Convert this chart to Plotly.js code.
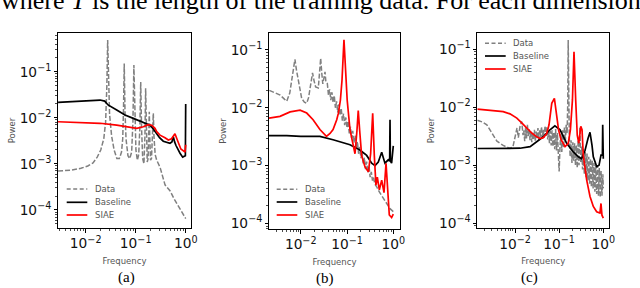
<!DOCTYPE html>
<html>
<head>
<meta charset="utf-8">
<script src="https://cdn.plot.ly/plotly-3.0.1.min.js"></script>
<style>html,body{margin:0;padding:0;background:#fff;}#chart{width:640px;height:288px;}</style>
</head>
<body>
<div id="chart"></div>
<script>
// ---------------- data ----------------
const seriesNames = ["Data", "Baseline", "SIAE"];
const panelLabels = ["(a)", "(b)", "(c)"];
const xTitle = "Frequency";
const yTitle = "Power";
const topText = "where <i>T</i> is the length of the training data. For each dimension";
const unitTickAlias = {"1": "10<sup>0</sup>"};

// panel (a)
const a_data_f = [0.0028,0.005,0.008,0.011,0.014,0.017,0.020,0.023,0.025,0.0265,0.0275,0.0286,0.030,0.033,0.037,0.042,0.047,0.052,0.055,0.057,0.059,0.061,0.064,0.070,0.076,0.083,0.088,0.092,0.096,0.101,0.108,0.115,0.121,0.126,0.131,0.138,0.146,0.153,0.158,0.163,0.170,0.177,0.183,0.187,0.191,0.198,0.207,0.218,0.225,0.232,0.245,0.263,0.306,0.386,0.485,0.61,0.77,1.0];
const a_data_p = [7.0e-4,7.3e-4,8.0e-4,9.0e-4,1.05e-3,1.4e-3,2.0e-3,3.5e-3,8e-3,5e-2,0.49,5e-2,1.2e-2,4e-3,2e-3,1.3e-3,1.3e-3,1.8e-3,3.5e-3,1.5e-2,0.15,1.5e-2,3.5e-3,1.5e-3,1.3e-3,1.8e-3,8e-3,0.14,8e-3,2e-3,1.2e-3,1.6e-3,6e-3,0.06,6e-3,1.3e-3,1.0e-3,4e-3,0.044,4e-3,1.1e-3,1.3e-3,4e-3,0.0135,4e-3,1.2e-3,1.3e-3,4e-3,0.0126,4e-3,1.6e-3,1.2e-3,8.5e-4,3.5e-4,2.6e-4,1.6e-4,1.05e-4,6.5e-5];
const a_base_f = [0.0028,0.0089,0.0194,0.024,0.028,0.0417,0.061,0.0896,0.13,0.193,0.225,0.263,0.30,0.356,0.42,0.485,0.53,0.565,0.60,0.64,0.77,0.87,0.985,1.0];
const a_base_p = [0.0216,0.023,0.0243,0.023,0.019,0.0148,0.0115,0.0097,0.0082,0.0069,0.0057,0.0045,0.0037,0.0031,0.0029,0.0028,0.003,0.0039,0.003,0.0025,0.0017,0.0014,0.0015,0.02];
const a_siae_f = [0.0028,0.0089,0.0194,0.0417,0.077,0.105,0.142,0.178,0.209,0.243,0.263,0.306,0.386,0.45,0.52,0.57,0.61,0.68,0.8,0.97,1.0];
const a_siae_p = [0.0082,0.0078,0.0076,0.0069,0.0062,0.0059,0.0064,0.0071,0.0069,0.0059,0.005,0.0042,0.0037,0.0033,0.0035,0.004,0.0045,0.0033,0.0021,0.0018,0.0026];

// panel (b)
const b_data_f = [0.0021,0.0028,0.0036,0.0045,0.005,0.0058,0.0064,0.0070,0.0075,0.0081,0.0089,0.0098,0.0105,0.012,0.0135,0.0148,0.0159,0.017,0.018,0.0195,0.021,0.024,0.0255,0.027,0.0285,0.030,0.032,0.0335,0.035,0.0376,0.0398,0.0422,0.0447,0.0473,0.0501,0.0531,0.0562,0.0596,0.0631,0.0668,0.0708,0.075,0.0794,0.0841,0.0891,0.0944,0.1,0.106,0.112,0.119,0.126,0.133,0.141,0.150,0.158,0.168,0.178,0.188,0.2,0.211,0.224,0.237,0.251,0.266,0.282,0.299,0.316,0.335,0.355,0.376,0.398,0.438,0.5,0.608,0.71,0.85,1.0];
const b_data_p = [0.020,0.018,0.0166,0.014,0.013,0.018,0.03,0.05,0.069,0.045,0.028,0.018,0.0145,0.0125,0.012,0.015,0.021,0.032,0.040,0.029,0.023,0.022,0.04,0.072,0.04,0.026,0.034,0.042,0.028,0.0263,0.0166,0.0209,0.0135,0.0186,0.0123,0.0162,0.01,0.0129,0.0083,0.0115,0.0074,0.0098,0.006,0.0079,0.005,0.0068,0.0045,0.0059,0.0036,0.0047,0.003,0.004,0.0025,0.0033,0.002,0.0026,0.0016,0.0021,0.00135,0.00174,0.00107,0.00138,0.00087,0.00117,0.00076,0.00098,0.00063,0.00078,0.00055,0.00062,0.00048,0.00043,0.00035,0.00027,0.00022,0.00018,0.00016];
const b_base_f = [0.00207,0.005,0.01,0.02,0.026,0.05,0.116,0.19,0.266,0.341,0.403,0.474,0.562,0.66,0.78,0.835,0.85,0.865,0.92,1.0];
const b_base_p = [0.0033,0.0033,0.0032,0.0032,0.0032,0.0028,0.0023,0.00186,0.0015,0.0011,0.001,0.00115,0.0017,0.0011,0.00126,0.0012,0.0062,0.0012,0.0011,0.0022];
const b_siae_f = [0.00207,0.00357,0.0059,0.0097,0.0135,0.0185,0.026,0.036,0.043,0.05,0.06,0.065,0.072,0.078,0.086,0.094,0.101,0.116,0.137,0.149,0.164,0.175,0.188,0.207,0.245,0.29,0.324,0.359,0.389,0.422,0.452,0.5,0.562,0.63,0.697,0.76,0.82,0.92,1.0];
const b_siae_p = [0.0066,0.0071,0.0085,0.0091,0.0081,0.0062,0.0042,0.0032,0.0036,0.0042,0.0062,0.008,0.0135,0.03,0.15,0.03,0.0135,0.0042,0.002,0.0016,0.004,0.009,0.004,0.0015,0.00095,0.00078,0.0016,0.008,0.0015,0.00046,0.00063,0.00038,0.00056,0.00034,0.0011,0.00038,0.00014,0.000126,0.000145];

// panel (c)
const c_data_f = [0.0014,0.0018,0.0023,0.0030,0.0039,0.0054,0.0077,0.009,0.01,0.0111,0.0119,0.013,0.0142,0.0152,
  0.0158,0.0166,0.0174,0.0182,0.0191,0.0200,0.0209,0.0219,0.0229,0.0240,0.0251,0.0263,0.0275,0.0288,0.0302,0.0316,0.0331,0.0347,0.0363,0.0380,
  0.0398,0.0417,0.0437,0.0457,0.0479,0.0501,0.0525,0.0550,0.0575,0.0603,0.0631,0.0661,0.0692,0.0724,0.0759,0.0794,0.0832,0.0871,0.0912,0.0955,
  0.1000,0.1047,0.1096,0.1148,0.1202,0.1259,0.1318,0.1380,0.1445,0.1514,0.1567,0.1603,0.1641,0.1698,0.1778,0.1862,0.1950,0.2042,0.2138,0.2239,
  0.2344,0.2455,0.2570,0.2692,0.2818,0.2951,0.3090,0.3236,0.3388,0.3548,0.3715,0.3890,0.4074,0.4266,0.4467,0.4677,0.4898,0.5129,0.5370,0.5623,
  0.5888,0.6166,0.6457,0.6761,0.7079,0.7413,0.7762,0.8128,0.8511,0.8913,0.9333,0.9772,1.0];
const c_data_p = [0.006,0.0056,0.005,0.0036,0.0026,0.0022,0.00195,0.0021,0.0031,0.0044,0.003,0.0047,0.0057,0.0033,
  0.0040,0.0026,0.0045,0.0029,0.0050,0.0031,0.0042,0.0027,0.0039,0.0025,0.0036,0.0028,0.0041,0.0026,0.0038,0.0030,0.0044,0.0027,0.0040,0.0031,
  0.0046,0.0029,0.0042,0.0030,0.0048,0.0032,0.0045,0.0028,0.0041,0.0024,0.0039,0.0022,0.0040,0.0021,0.0037,0.0019,0.0042,0.0018,0.0036,0.0015,
  0.00078,0.0022,0.0035,0.0017,0.0040,0.0020,0.0046,0.0025,0.0050,0.0035,0.012,0.145,0.012,0.0030,0.0014,0.0027,0.0011,0.0025,0.0012,0.0024,
  0.0010,0.0022,0.0009,0.0027,0.0010,0.0045,0.0011,0.0021,0.00085,0.0019,0.0007,0.0017,0.00062,0.0016,0.00055,0.0014,0.00048,0.0013,0.00042,0.0012,
  0.00040,0.0011,0.00035,0.0010,0.00032,0.0010,0.00030,0.0009,0.00028,0.0008,0.00030,0.0007,0.0004];
const c_base_f = [0.0014,0.0046,0.013,0.022,0.031,0.0437,0.062,0.08,0.105,0.148,0.209,0.272,0.323,0.385,0.45,0.5,0.555,0.594,0.708,0.8,0.887,0.955,0.97,1.0];
const c_base_p = [0.00195,0.00195,0.00197,0.0021,0.0026,0.0031,0.0041,0.0048,0.0041,0.0024,0.0017,0.0014,0.0013,0.0018,0.0029,0.0037,0.0022,0.0014,0.00095,0.001,0.0015,0.0015,0.005,0.0013];
const c_siae_f = [0.0014,0.0027,0.0054,0.0077,0.011,0.0142,0.0184,0.024,0.031,0.0368,0.0437,0.052,0.059,0.068,0.078,0.088,0.097,0.11,0.136,0.161,0.18,0.2,0.217,0.237,0.257,0.279,0.309,0.33,0.352,0.42,0.5,0.594,0.708,0.84,0.887,0.933,1.0];
const c_siae_p = [0.0093,0.0088,0.0084,0.0077,0.0065,0.0054,0.0044,0.0036,0.0031,0.0029,0.003,0.0035,0.005,0.0117,0.0143,0.0079,0.0041,0.0028,0.0021,0.0024,0.0041,0.0134,0.091,0.0134,0.0033,0.0024,0.0047,0.0041,0.0015,0.00056,0.00029,0.000195,0.000158,0.00015,0.00022,0.000138,0.000123];

// ---------------- layout / styling ----------------
const W = 640, H = 288;
const colors = {Data: "#808080", Baseline: "#000000", SIAE: "#ff0000"};
const dashes = {Data: "5px,2px", Baseline: "solid", SIAE: "solid"};
const widths = {Data: 1.5, Baseline: 1.7, SIAE: 1.7};

const panels = [
  {sfx: "",  series: [[a_data_f,a_data_p],[a_base_f,a_base_p],[a_siae_f,a_siae_p]],
   box: [58, 191, 33, 228], xr: [-2.554, 0.106], yr: [-4.393, -0.159],
   leg: {x0: 66.7, x1: 87.3, tx: 92.7, ys: [189, 202.3, 215]}, cap: [126, 277]},
  {sfx: "2", series: [[b_data_f,b_data_p],[b_base_f,b_base_p],[b_siae_f,b_siae_p]],
   box: [269, 400, 33, 229], xr: [-2.685, 0.145], yr: [-4.097, -0.706],
   leg: {x0: 276.7, x1: 297.3, tx: 302.7, ys: [189.3, 202, 215]}, cap: [325, 278]},
  {sfx: "3", series: [[c_data_f,c_data_p],[c_base_f,c_base_p],[c_siae_f,c_siae_p]],
   box: [477.3, 609.3, 32.7, 228.3], xr: [-2.854, 0.136], yr: [-4.086, -0.714],
   leg: {x0: 485, x1: 505.7, tx: 510.7, ys: [43.3, 56, 69]}, cap: [529, 277.7]}
];

const traces = [];
const layout = {
  width: W, height: H,
  margin: {l: 0, r: 0, t: 0, b: 0},
  paper_bgcolor: "#fff", plot_bgcolor: "#fff",
  showlegend: false,
  font: {family: "DejaVu Sans", color: "#000"},
  shapes: [], annotations: []
};

function axisBase() {
  return {
    type: "log", showline: true, linecolor: "#000", linewidth: 1, mirror: true,
    ticks: "outside", ticklen: 3.5, tickwidth: 1, tickcolor: "#000",
    showgrid: false, zeroline: false, dtick: 1, exponentformat: "power",
    labelalias: unitTickAlias,
    tickfont: {family: "DejaVu Sans", size: 11, color: "#111"},
    minor: {ticks: "outside", ticklen: 2, tickwidth: 0.7, tickcolor: "#000", showgrid: false},
    fixedrange: true
  };
}

panels.forEach((p, k) => {
  const xa = "x" + p.sfx, ya = "y" + p.sfx;
  p.series.forEach((s, i) => {
    const nm = seriesNames[i];
    traces.push({
      type: "scatter", mode: "lines", name: nm, x: s[0], y: s[1],
      xaxis: xa, yaxis: ya,
      line: {color: colors[nm], width: widths[nm], dash: dashes[nm]},
      hoverinfo: "skip"
    });
  });
  layout["xaxis" + p.sfx] = Object.assign(axisBase(), {
    domain: [p.box[0] / W, p.box[1] / W], range: p.xr, anchor: ya,
    title: {text: xTitle, font: {size: 8.5, color: "#555"}, standoff: 7}
  });
  layout["yaxis" + p.sfx] = Object.assign(axisBase(), {
    domain: [1 - p.box[3] / H, 1 - p.box[2] / H], range: p.yr, anchor: xa,
    title: {text: yTitle, font: {size: 8.5, color: "#555"}, standoff: 2}
  });
  // legend (drawn in paper pixels)
  seriesNames.forEach((nm, i) => {
    const yy = 1 - p.leg.ys[i] / H;
    layout.shapes.push({type: "line", xref: "paper", yref: "paper",
      x0: p.leg.x0 / W, x1: p.leg.x1 / W, y0: yy, y1: yy,
      line: {color: colors[nm], width: widths[nm], dash: nm === "Data" ? "4px,2.5px" : "solid"}});
    layout.annotations.push({xref: "paper", yref: "paper", x: p.leg.tx / W, y: yy,
      xanchor: "left", yanchor: "middle", showarrow: false, text: nm,
      font: {family: "DejaVu Sans", size: 8.5, color: "#555"}});
  });
  layout.annotations.push({xref: "paper", yref: "paper", x: p.cap[0] / W, y: 1 - p.cap[1] / H,
    xanchor: "center", yanchor: "middle", showarrow: false, text: panelLabels[k],
    font: {family: "Liberation Serif", size: 15, color: "#000"}});
});

layout.annotations.push({xref: "paper", yref: "paper", x: -1 / W, y: 1 - 1 / H,
  xanchor: "left", yanchor: "middle", showarrow: false, text: topText,
  font: {family: "Liberation Serif", size: 26, color: "#000"}});

Plotly.newPlot("chart", traces, layout, {staticPlot: true, displayModeBar: false});
</script>
</body>
</html>
